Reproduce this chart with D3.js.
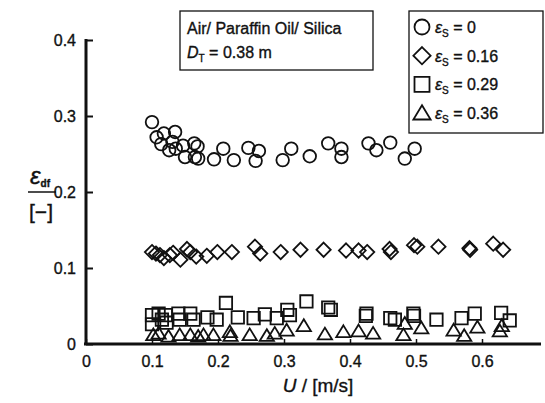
<!DOCTYPE html>
<html>
<head>
<meta charset="utf-8">
<script src="https://cdn.jsdelivr.net/npm/d3@7"></script>
<style>
  body { margin: 0; background: #fff; }
  text { font-family: "Liberation Sans", Arial, sans-serif; fill: #111; stroke: #111; stroke-width: 0.35px; }
</style>
</head>
<body>
<div id="chart"></div>
<script>
// eps_s = 0 (circles)
var u0 = [0.100, 0.107, 0.118, 0.135, 0.114, 0.131, 0.126, 0.136, 0.147, 0.164, 0.169, 0.150, 0.165, 0.170, 0.194, 0.208, 0.224, 0.246, 0.262, 0.257, 0.298, 0.311, 0.339, 0.367, 0.387, 0.387, 0.428, 0.440, 0.461, 0.483, 0.498];
var e0 = [0.292, 0.272, 0.277, 0.279, 0.263, 0.266, 0.255, 0.257, 0.261, 0.264, 0.260, 0.246, 0.246, 0.244, 0.243, 0.257, 0.242, 0.258, 0.254, 0.241, 0.242, 0.257, 0.247, 0.264, 0.257, 0.246, 0.264, 0.255, 0.265, 0.244, 0.257];
// eps_s = 0.16 (diamonds)
var u16 = [0.100, 0.106, 0.112, 0.118, 0.127, 0.132, 0.143, 0.153, 0.158, 0.167, 0.183, 0.199, 0.221, 0.256, 0.264, 0.295, 0.325, 0.360, 0.394, 0.413, 0.426, 0.460, 0.462, 0.497, 0.502, 0.534, 0.581, 0.582, 0.617, 0.632];
var e16 = [0.121, 0.119, 0.117, 0.113, 0.117, 0.120, 0.111, 0.125, 0.121, 0.115, 0.116, 0.121, 0.121, 0.128, 0.119, 0.121, 0.124, 0.124, 0.123, 0.123, 0.121, 0.125, 0.121, 0.130, 0.128, 0.128, 0.126, 0.124, 0.132, 0.124];
// eps_s = 0.29 (squares)
var u29 = [0.100, 0.100, 0.110, 0.115, 0.121, 0.122, 0.140, 0.142, 0.158, 0.163, 0.184, 0.198, 0.212, 0.230, 0.254, 0.271, 0.289, 0.305, 0.309, 0.334, 0.367, 0.371, 0.425, 0.424, 0.461, 0.468, 0.496, 0.497, 0.531, 0.569, 0.589, 0.629, 0.642];
var e29 = [0.038, 0.026, 0.040, 0.032, 0.038, 0.028, 0.040, 0.032, 0.040, 0.032, 0.035, 0.032, 0.054, 0.035, 0.034, 0.039, 0.034, 0.045, 0.038, 0.056, 0.048, 0.045, 0.040, 0.037, 0.034, 0.032, 0.040, 0.037, 0.032, 0.034, 0.040, 0.041, 0.031];
// eps_s = 0.36 (triangles)
var u36 = [0.102, 0.110, 0.125, 0.142, 0.158, 0.170, 0.178, 0.193, 0.218, 0.219, 0.248, 0.274, 0.286, 0.304, 0.330, 0.362, 0.390, 0.413, 0.435, 0.481, 0.483, 0.508, 0.557, 0.573, 0.593, 0.627, 0.630];
var e36 = [0.012, 0.014, 0.010, 0.012, 0.012, 0.010, 0.012, 0.012, 0.016, 0.011, 0.012, 0.011, 0.014, 0.018, 0.024, 0.013, 0.016, 0.017, 0.014, 0.012, 0.027, 0.021, 0.018, 0.011, 0.022, 0.017, 0.024];

var xTicks = [0, 0.1, 0.2, 0.3, 0.4, 0.5, 0.6];
var yTicks = [0, 0.1, 0.2, 0.3, 0.4];
var legendLabels = ["0", "0.16", "0.29", "0.36"];
var shapes = ["circle", "diamond", "square", "triangle"];

var W = 545, H = 403;
var svg = d3.select("#chart").append("svg").attr("width", W).attr("height", H);

var x = d3.scaleLinear().domain([0, 0.7]).range([86, 548]);
var y = d3.scaleLinear().domain([0, 0.4]).range([344, 40]);

function shapePath(type, s) {
    // s = half size
    if (type == "circle") {
        return "M" + (-s) + ",0A" + s + "," + s + " 0 1,0 " + s + ",0A" + s + "," + s + " 0 1,0 " + (-s) + ",0Z";
    } else if (type == "diamond") {
        var d = s * 1.15;
        return "M0," + (-d) + "L" + d + ",0L0," + d + "L" + (-d) + ",0Z";
    } else if (type == "square") {
        return "M" + (-s) + "," + (-s) + "H" + s + "V" + s + "H" + (-s) + "Z";
    } else {
        var h = s * 1.9, w = s * 1.15;
        return "M0," + (-h * 0.55) + "L" + w + "," + (h * 0.45) + "L" + (-w) + "," + (h * 0.45) + "Z";
    }
}

var series = [
    {u: u0, e: e0, shape: "circle", s: 6.3},
    {u: u16, e: e16, shape: "diamond", s: 6.2},
    {u: u29, e: e29, shape: "square", s: 6.2},
    {u: u36, e: e36, shape: "triangle", s: 6.2}
];

series.forEach(function (ser) {
    var pts = ser.u.map(function (v, i) { return [v, ser.e[i]]; });
    svg.append("g").selectAll("path")
        .data(pts)
        .enter().append("path")
        .attr("transform", function (d) { return "translate(" + x(d[0]) + "," + y(d[1]) + ")"; })
        .attr("d", shapePath(ser.shape, ser.s))
        .attr("fill", "none")
        .attr("stroke", "#111")
        .attr("stroke-width", 1.8);
});

// axes
var xAxis = d3.axisBottom(x).tickValues(xTicks).tickSize(-5).tickPadding(12)
    .tickFormat(function (d) { return d === 0 ? "0" : d3.format(".1f")(d); });
var gx = svg.append("g").attr("transform", "translate(0,344)").call(xAxis);
gx.select(".domain").remove();
gx.selectAll(".tick line").attr("stroke", "#111").attr("stroke-width", 1.5);
gx.selectAll("text").attr("font-size", 16).attr("font-family", "Liberation Sans, Arial, sans-serif")
    .attr("fill", "#111").attr("stroke-width", 0.6);
gx.append("line").attr("x1", 84).attr("x2", 541).attr("y1", 0).attr("y2", 0)
    .attr("stroke", "#111").attr("stroke-width", 3);

var yAxis = d3.axisLeft(y).tickValues(yTicks).tickSize(-7).tickPadding(10)
    .tickFormat(function (d) { return d === 0 ? "0" : d3.format(".1f")(d); });
var gy = svg.append("g").attr("transform", "translate(86,0)").call(yAxis);
gy.select(".domain").remove();
gy.selectAll(".tick line").attr("stroke", "#111").attr("stroke-width", 2);
gy.selectAll("text").attr("font-size", 16).attr("font-family", "Liberation Sans, Arial, sans-serif")
    .attr("fill", "#111").attr("stroke-width", 0.6);
gy.append("line").attr("x1", 0).attr("x2", 0).attr("y1", 39).attr("y2", 345)
    .attr("stroke", "#111").attr("stroke-width", 3);

// x label
var xl = svg.append("text").attr("x", 318).attr("y", 392).attr("text-anchor", "middle").attr("font-size", 19);
xl.append("tspan").attr("font-style", "italic").text("U");
xl.append("tspan").text(" / [m/s]");

// y label
var yl = svg.append("g");
var eps = yl.append("text").attr("x", 40).attr("y", 184).attr("text-anchor", "middle").attr("font-size", 24);
eps.append("tspan").attr("font-style", "italic").text("ε");
eps.append("tspan").attr("font-size", 10).attr("font-weight", "bold").attr("dy", 3).text("df");
yl.append("line").attr("x1", 28).attr("x2", 56).attr("y1", 192).attr("y2", 192).attr("stroke", "#111").attr("stroke-width", 1.5);
yl.append("text").attr("x", 41).attr("y", 219).attr("text-anchor", "middle").attr("font-size", 21).text("[−]");

// title box
var tb = svg.append("g");
tb.append("rect").attr("x", 180).attr("y", 11).attr("width", 193).attr("height", 59)
    .attr("fill", "#fff").attr("stroke", "#111").attr("stroke-width", 1.3);
tb.append("text").attr("x", 187).attr("y", 34).attr("font-size", 16).text("Air/ Paraffin Oil/ Silica");
var dt = tb.append("text").attr("x", 187).attr("y", 58).attr("font-size", 16);
dt.append("tspan").attr("font-style", "italic").text("D");
dt.append("tspan").attr("font-size", 10).attr("dy", 4).text("T");
dt.append("tspan").attr("dy", -4).text(" = 0.38 m");

// legend
var lg = svg.append("g");
lg.append("rect").attr("x", 409).attr("y", 11).attr("width", 134).attr("height", 122)
    .attr("fill", "#fff").attr("stroke", "#111").attr("stroke-width", 1.3);
legendLabels.forEach(function (lab, i) {
    var cy = 27 + i * 28.7;
    lg.append("path").attr("transform", "translate(422," + cy + ")")
        .attr("d", shapePath(shapes[i], 7.5))
        .attr("fill", "none").attr("stroke", "#111").attr("stroke-width", 1.8);
    var t = lg.append("text").attr("x", 435).attr("y", cy + 6).attr("font-size", 16);
    t.append("tspan").attr("font-style", "italic").text("ε");
    t.append("tspan").attr("font-size", 10).attr("dy", 4).text("S");
    t.append("tspan").attr("dy", -4).text(" = " + lab);
});
</script>
</body>
</html>
